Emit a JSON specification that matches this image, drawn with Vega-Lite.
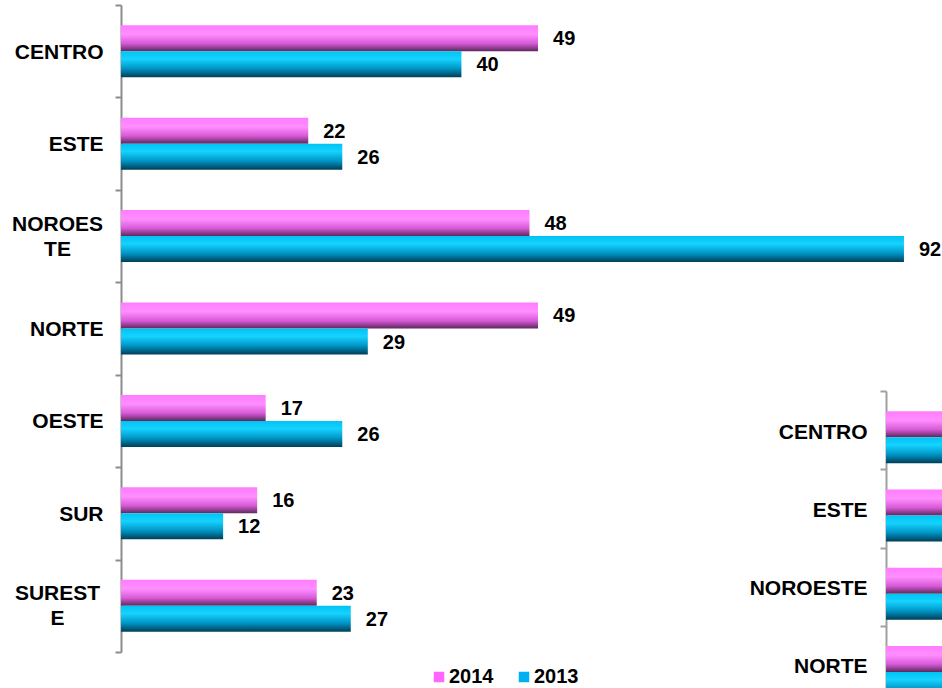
{
  "$schema": "https://vega.github.io/schema/vega-lite/v6.json",
  "padding": {"left": 11, "top": -6, "right": 0, "bottom": 0},
  "bounds": "flush",
  "spacing": 0,
  "config": {"view": {"stroke": null}, "font": "Liberation Sans"},
  "datasets": {
    "d": [
      {"region": "CENTRO", "year": "2014", "value": 49},
      {"region": "CENTRO", "year": "2013", "value": 40},
      {"region": "ESTE", "year": "2014", "value": 22},
      {"region": "ESTE", "year": "2013", "value": 26},
      {"region": "NOROESTE", "year": "2014", "value": 48},
      {"region": "NOROESTE", "year": "2013", "value": 92},
      {"region": "NORTE", "year": "2014", "value": 49},
      {"region": "NORTE", "year": "2013", "value": 29},
      {"region": "OESTE", "year": "2014", "value": 17},
      {"region": "OESTE", "year": "2013", "value": 26},
      {"region": "SUR", "year": "2014", "value": 16},
      {"region": "SUR", "year": "2013", "value": 12},
      {"region": "SURESTE", "year": "2014", "value": 23},
      {"region": "SURESTE", "year": "2013", "value": 27}
    ]
  },
  "hconcat": [
    {
      "width": 765,
      "height": 647,
      "data": {"name": "d"},
      "encoding": {
        "y": {
          "field": "region", "type": "nominal",
          "sort": ["CENTRO", "ESTE", "NOROESTE", "NORTE", "OESTE", "SUR", "SURESTE"],
          "scale": {"paddingInner": 0, "paddingOuter": 0},
          "axis": {
            "title": null,
            "domainColor": "#8c8c8c", "domainWidth": 2,
            "tickColor": "#8c8c8c", "tickWidth": 2, "tickSize": 6,
            "tickBand": "extent",
            "labelFont": "Liberation Sans", "labelFontSize": 21, "labelFontWeight": "bold",
            "labelColor": "#000000", "labelLineHeight": 25,
            "labelExpr": "datum.value == 'NOROESTE' ? ['NOROES', 'TE'] : datum.value == 'SURESTE' ? ['SUREST', 'E'] : datum.value",
            "labelAlign": {"condition": {"test": "datum.value == 'NOROESTE' || datum.value == 'SURESTE'", "value": "center"}, "value": "right"},
            "labelPadding": {"condition": {"test": "datum.value == 'NOROESTE' || datum.value == 'SURESTE'", "value": 58}, "value": 12},
            "labelOffset": {"condition": {"test": "datum.value == 'NOROESTE' || datum.value == 'SURESTE'", "value": -12}, "value": 1}
          }
        },
        "yOffset": {
          "field": "year", "type": "nominal",
          "scale": {"domain": ["2014", "2013"], "paddingInner": 0, "paddingOuter": 0.777}
        },
        "x": {"field": "value", "type": "quantitative", "scale": {"domain": [0, 89.89]}, "axis": null}
      },
      "layer": [
        {
          "transform": [{"filter": "datum.year == '2014'"}],
          "mark": {"type": "bar", "fill": {"gradient": "linear", "x1": 0, "y1": 0, "x2": 0, "y2": 1,
            "stops": [{"offset": 0, "color": "#FF7CFF"}, {"offset": 0.35, "color": "#FF8EFF"}, {"offset": 0.7, "color": "#D85AD8"}, {"offset": 1, "color": "#5C285C"}]}}
        },
        {
          "transform": [{"filter": "datum.year == '2013'"}],
          "mark": {"type": "bar", "fill": {"gradient": "linear", "x1": 0, "y1": 0, "x2": 0, "y2": 1,
            "stops": [{"offset": 0, "color": "#00C3F2"}, {"offset": 0.3, "color": "#16D2FF"}, {"offset": 0.65, "color": "#0098C8"}, {"offset": 1, "color": "#003E58"}]}}
        },
        {
          "mark": {"type": "bar", "opacity": 0},
          "encoding": {
            "color": {
              "field": "year", "type": "nominal",
              "scale": {"domain": ["2014", "2013"], "range": ["#FF66FF", "#00B0F0"]},
              "legend": {
                "title": null, "orient": "none", "direction": "horizontal",
                "legendX": 308, "legendY": 662,
                "symbolType": "square", "symbolSize": 110, "symbolOpacity": 1, "symbolStrokeWidth": 0,
                "labelFont": "Liberation Sans", "labelFontSize": 20, "labelFontWeight": "bold", "labelColor": "#000000",
                "labelOffset": 0, "columnPadding": 20
              }
            }
          }
        },
        {
          "mark": {"type": "text", "align": "left", "baseline": "middle", "dx": 15, "dy": 1,
            "font": "Liberation Sans", "fontSize": 20, "fontWeight": "bold", "color": "#000000"},
          "encoding": {"text": {"field": "value", "type": "quantitative"}}
        }
      ]
    },
    {
      "spacing": 0,
      "bounds": "flush",
      "vconcat": [
        {"width": 56, "height": 386, "data": {"values": []}, "mark": "point"},
        {
          "width": 56,
          "height": 313,
          "data": {"name": "d"},
          "transform": [{"filter": {"field": "region", "oneOf": ["CENTRO", "ESTE", "NOROESTE", "NORTE"]}}],
          "encoding": {
            "y": {
              "field": "region", "type": "nominal",
              "sort": ["CENTRO", "ESTE", "NOROESTE", "NORTE"],
              "scale": {"paddingInner": 0, "paddingOuter": 0},
              "axis": {
                "title": null,
                "domainColor": "#a0a0a0", "domainWidth": 2,
                "tickColor": "#a0a0a0", "tickWidth": 2, "tickSize": 6,
                "tickBand": "extent",
                "labelFont": "Liberation Sans", "labelFontSize": 21, "labelFontWeight": "bold",
                "labelColor": "#000000", "labelPadding": 13, "labelOffset": 2
              }
            },
            "yOffset": {
              "field": "year", "type": "nominal",
              "scale": {"domain": ["2014", "2013"], "paddingInner": 0, "paddingOuter": 0.82}
            },
            "x": {"field": "value", "type": "quantitative", "scale": {"domain": [0, 5]}, "axis": null}
          },
          "layer": [
            {
              "transform": [{"filter": "datum.year == '2014'"}],
              "mark": {"type": "bar", "clip": true, "fill": {"gradient": "linear", "x1": 0, "y1": 0, "x2": 0, "y2": 1,
                "stops": [{"offset": 0, "color": "#FF7CFF"}, {"offset": 0.35, "color": "#FF8EFF"}, {"offset": 0.7, "color": "#D85AD8"}, {"offset": 1, "color": "#5C285C"}]}}
            },
            {
              "transform": [{"filter": "datum.year == '2013'"}],
              "mark": {"type": "bar", "clip": true, "fill": {"gradient": "linear", "x1": 0, "y1": 0, "x2": 0, "y2": 1,
                "stops": [{"offset": 0, "color": "#00C3F2"}, {"offset": 0.3, "color": "#16D2FF"}, {"offset": 0.65, "color": "#0098C8"}, {"offset": 1, "color": "#003E58"}]}}
            }
          ]
        }
      ]
    }
  ]
}
